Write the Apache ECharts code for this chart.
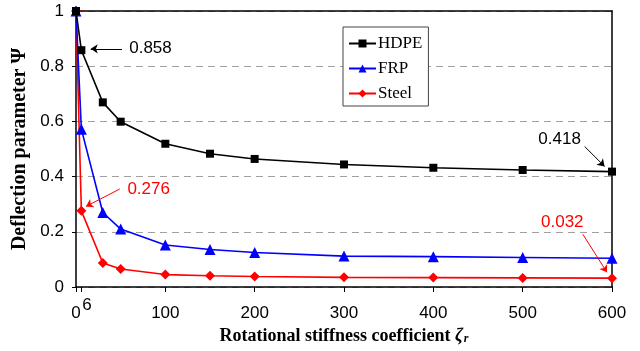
<!DOCTYPE html>
<html>
<head>
<meta charset="utf-8">
<script src="https://cdn.jsdelivr.net/npm/echarts@6/dist/echarts.min.js"></script>
<style>html,body{margin:0;padding:0;background:#fff}#c{width:640px;height:351px}</style>
</head>
<body>
<div id="c"></div>
<script>
// ---- data ----
const xValues = [0, 6, 30, 50, 100, 150, 200, 300, 400, 500, 600];
const hdpe  = [1.0, 0.858, 0.669, 0.599, 0.519, 0.483, 0.464, 0.444, 0.432, 0.424, 0.418];
const frp   = [1.0, 0.572, 0.270, 0.210, 0.152, 0.136, 0.125, 0.112, 0.110, 0.107, 0.104];
const steel = [1.0, 0.276, 0.087, 0.065, 0.045, 0.041, 0.038, 0.035, 0.034, 0.033, 0.032];
const xTicks = [0, 6, 100, 200, 300, 400, 500, 600];
const yTicks = [0, 0.2, 0.4, 0.6, 0.8, 1];
const seriesNames = ['HDPE', 'FRP', 'Steel'];
const annotationTexts = ['0.858', '0.276', '0.418', '0.032'];

// annotation placement (text anchor & arrow start/end in data space)
const annotations = [
  { text: annotationTexts[0], series: 0, color: '#000', textAt: [59, 0.863], from: [51.5, 0.863], to: [16.5, 0.863] },
  { text: annotationTexts[1], series: 2, color: '#ff0000', textAt: [57, 0.3525], from: [49, 0.355], to: [11.2, 0.292] },
  { text: annotationTexts[2], series: 0, color: '#000', textAt: [517, 0.534], from: [569.4, 0.509], to: [591.7, 0.437] },
  { text: annotationTexts[3], series: 2, color: '#ff0000', textAt: [520, 0.234], from: [567.4, 0.191], to: [594.3, 0.053] }
];

const pair = (ys) => xValues.map((x, i) => [x, ys[i]]);
const SANS = 'Liberation Sans';
const SERIF = 'Liberation Serif';

function annFor(idx) {
  const list = annotations.filter(a => a.series === idx);
  const col = list.length ? list[0].color : '#000';
  return {
    markLine: {
      silent: true,
      symbol: ['none', 'arrow'],
      symbolSize: 7,
      label: { show: false },
      itemStyle: { color: col },
      lineStyle: { type: 'solid', width: 1, color: col },
      emphasis: { disabled: true },
      data: list.map(a => [
        { coord: a.from, lineStyle: { color: col }, itemStyle: { color: col } },
        { coord: a.to, symbol: 'arrow', symbolSize: 7 }
      ])
    },
    markPoint: {
      silent: true,
      symbol: 'rect',
      symbolSize: 1,
      itemStyle: { color: 'rgba(0,0,0,0)' },
      data: list.map(a => ({
        coord: a.textAt,
        label: { show: true, position: 'right', distance: 0, formatter: a.text,
                 color: a.color, fontFamily: SANS, fontSize: 17 }
      }))
    }
  };
}

const colors = ['#000000', '#0000ff', '#ff0000'];
const symbols = ['rect', 'triangle', 'diamond'];
const sizes = [8, 11, 10];
const dataSets = [hdpe, frp, steel];

const chart = echarts.init(document.getElementById('c'), null, { renderer: 'canvas' });
chart.setOption({
  animation: false,
  backgroundColor: '#fff',
  grid: { left: 76, right: 28, top: 11, bottom: 64, show: false },
  legend: {
    data: seriesNames,
    orient: 'vertical',
    left: 343, top: 27,
    padding: [8, 6, 4, 5],
    itemGap: 8,
    itemWidth: 27, itemHeight: 10,
    borderColor: '#444', borderWidth: 1,
    backgroundColor: '#fff',
    textStyle: { fontFamily: SERIF, fontSize: 17, color: '#000', padding: [0, 0, 0, -3] }
  },
  xAxis: [{
    type: 'value', min: 0, max: 600,
    position: 'bottom',
    axisLine: { show: true, onZero: false, lineStyle: { color: '#000', width: 1.5 } },
    axisTick: { show: true, customValues: xTicks, length: 5, lineStyle: { color: '#000', width: 1 } },
    axisLabel: { customValues: xTicks.filter(v => v !== 6), margin: 18, fontFamily: SANS, fontSize: 17, color: '#000' },
    splitLine: { show: false },
    name: 'Rotational stiffness coefficient {z|ζ}{s|r}',
    nameLocation: 'middle', nameGap: 36,
    nameTextStyle: {
      fontFamily: SERIF, fontSize: 18, fontWeight: 'bold', color: '#000',
      rich: {
        z: { fontFamily: SERIF, fontSize: 18, fontWeight: 'bold', fontStyle: 'italic', color: '#000' },
        s: { fontFamily: SERIF, fontSize: 12, fontWeight: 'bold', fontStyle: 'italic', color: '#000', padding: [7, 0, 0, 1] }
      }
    }
  }, {
    type: 'value', min: 0, max: 600, position: 'bottom', gridIndex: 0,
    axisLine: { show: false }, axisTick: { show: false }, splitLine: { show: false },
    axisLabel: { customValues: [6], margin: 10, fontFamily: SANS, fontSize: 17, color: '#000', padding: [0, 0, 0, 11] }
  }, {
    type: 'value', min: 0, max: 600, position: 'top',
    axisLine: { show: true, onZero: false, lineStyle: { color: '#000', width: 1.5 } },
    axisTick: { show: false }, axisLabel: { show: false }, splitLine: { show: false }
  }],
  yAxis: [{
    type: 'value', min: 0, max: 1, interval: 0.2,
    axisLine: { show: true, onZero: false, lineStyle: { color: '#000', width: 1.5 } },
    axisTick: { show: true, length: 4, inside: false, lineStyle: { color: '#000' } },
    axisLabel: { margin: 12, fontFamily: SANS, fontSize: 17, color: '#000',
                 formatter: v => (yTicks.includes(+v.toFixed(1)) ? String(+v.toFixed(1)) : '') },
    splitLine: { show: true, lineStyle: { color: '#a0a0a0', type: [7, 5], width: 1 } },
    name: 'Deflection parameter Ψ',
    nameLocation: 'middle', nameGap: 44,
    nameTextStyle: { fontFamily: SERIF, fontSize: 20, fontWeight: 'bold', color: '#000' }
  }, {
    type: 'value', min: 0, max: 1, position: 'right',
    axisLine: { show: true, onZero: false, lineStyle: { color: '#000', width: 1.5 } },
    axisTick: { show: false }, axisLabel: { show: false }, splitLine: { show: false }
  }],
  series: dataSets.map((d, i) => Object.assign({
    name: seriesNames[i],
    type: 'line',
    data: pair(d),
    symbol: symbols[i],
    symbolSize: sizes[i],
    showSymbol: true,
    clip: false,
    z: 3 - i + 2,
    lineStyle: { color: colors[i], width: 1.6 },
    itemStyle: { color: colors[i] }
  }, annFor(i)))
});
</script>
</body>
</html>
